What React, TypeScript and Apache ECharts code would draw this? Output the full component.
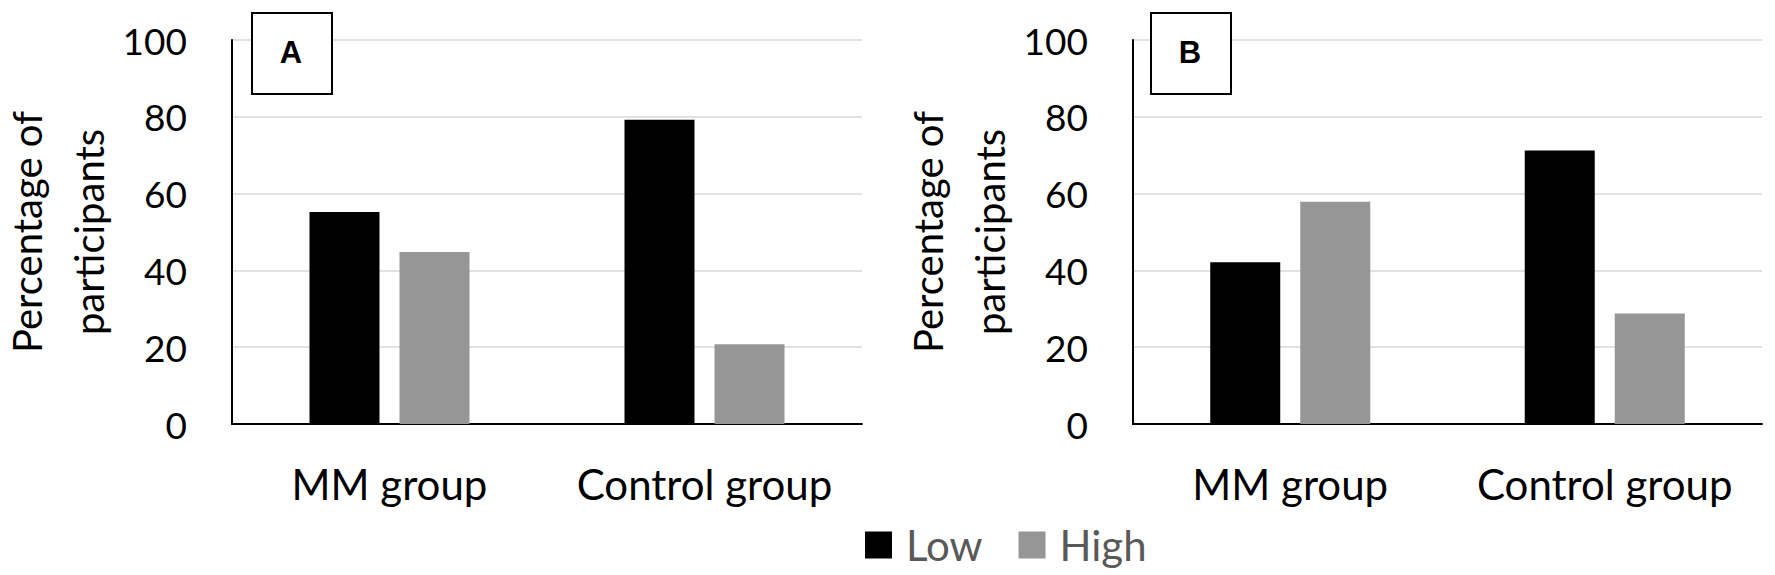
import React, { useEffect, useRef } from "react";
import * as echarts from "echarts";

const categories = ["MM group", "Control group"];
const seriesNames = ["Low", "High"];
const panelALow = [55.2, 79.2];
const panelAHigh = [44.8, 20.8];
const panelBLow = [42.1, 71.2];
const panelBHigh = [57.9, 28.8];
const yTicks = { min: 0, max: 100, interval: 20 };
const panelLetters = ["A", "B"];

const FONT = "Lato";

export default function App() {
  const ref = useRef<HTMLDivElement>(null);
  useEffect(() => {
    document.body.style.margin = "0";
    if (!ref.current) return;
    const chart = echarts.init(ref.current, undefined, { renderer: "svg" });
    const grids = [
      { left: 232, top: 40, width: 630, height: 384, outerBoundsMode: "none", containLabel: false },
      { left: 1133, top: 40, width: 629, height: 384, outerBoundsMode: "none", containLabel: false },
    ];
    const xAxes = grids.map((_, i) => ({
      type: "category",
      gridIndex: i,
      data: categories,
      axisTick: { show: false },
      axisLine: { show: true, lineStyle: { color: "#000", width: 2 } },
      axisLabel: { interval: 0, hideOverlap: false, fontFamily: FONT, fontSize: 42, color: "#000", margin: 39 },
    }));
    const yAxes = grids.map((_, i) => ({
      type: "value",
      gridIndex: i,
      min: yTicks.min,
      max: yTicks.max,
      interval: yTicks.interval,
      name: "Percentage of\nparticipants",
      nameLocation: "middle",
      nameRotate: 90,
      nameGap: 112,
      nameMoveOverlap: false,
      nameTextStyle: { fontFamily: FONT, fontSize: 40, lineHeight: 62, color: "#000" },
      axisLine: { show: true, lineStyle: { color: "#000", width: 2 } },
      axisTick: { show: false },
      splitLine: { show: true, lineStyle: { color: "#d9d9d9", width: 1.5 } },
      axisLabel: { fontFamily: FONT, fontSize: 37, color: "#000", margin: 45 },
    }));
    const data = [
      [panelALow, panelAHigh],
      [panelBLow, panelBHigh],
    ];
    const colors = ["#000000", "#969696"];
    const series: any[] = [];
    data.forEach((pair, gi) => {
      pair.forEach((vals, si) => {
        series.push({
          type: "bar",
          name: seriesNames[si],
          xAxisIndex: gi,
          yAxisIndex: gi,
          data: vals,
          barWidth: 70,
          barGap: "28.6%",
          itemStyle: { color: colors[si] },
        });
      });
    });
    const boxes = [252, 1151];
    const graphic: any[] = [];
    boxes.forEach((x, i) => {
      graphic.push({
        type: "rect",
        z: 100,
        shape: { x, y: 13, width: 80, height: 81 },
        style: { fill: "#fff", stroke: "#000", lineWidth: 2 },
      });
      graphic.push({
        type: "text",
        z: 101,
        x: x + 39,
        y: 52,
        style: {
          text: panelLetters[i],
          fontFamily: "Liberation Sans",
          fontWeight: "bold",
          fontSize: 31,
          fill: "#000",
          align: "center",
          verticalAlign: "middle",
        },
      });
    });
    chart.setOption({
      animation: false,
      backgroundColor: "#fff",
      color: colors,
      grid: grids,
      xAxis: xAxes,
      yAxis: yAxes,
      series,
      legend: {
        data: seriesNames,
        left: 865,
        top: 524,
        padding: 0,
        icon: "rect",
        itemWidth: 27,
        itemHeight: 27,
        itemGap: 36,
        textStyle: { fontFamily: FONT, fontSize: 42, lineHeight: 34, color: "#595959", padding: [0, 0, 0, 9] },
      },
      graphic,
    });
    return () => chart.dispose();
  }, []);
  return <div ref={ref} style={{ width: 1775, height: 575 }} />;
}
